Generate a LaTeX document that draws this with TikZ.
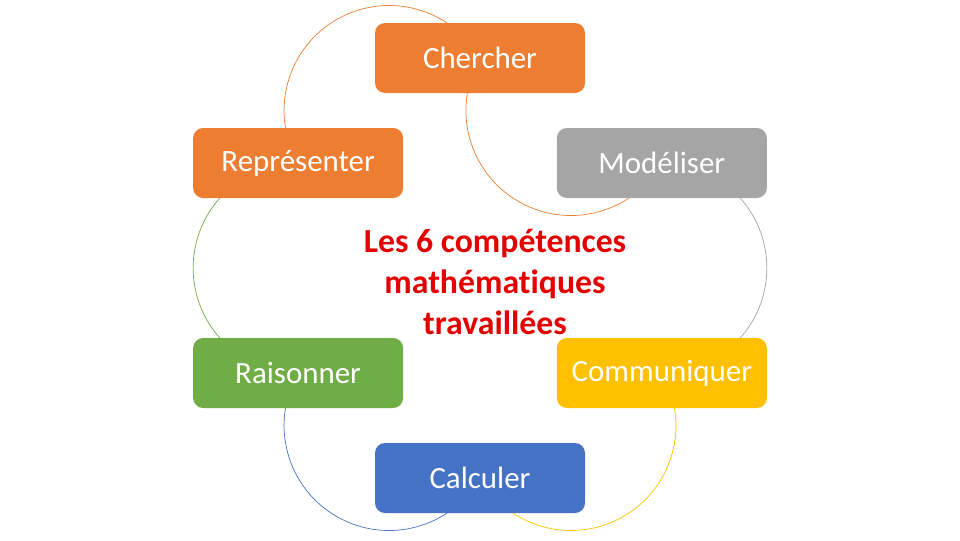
\documentclass[tikz,border=0pt]{standalone}
\usepackage{fontspec}
\setmainfont{Carlito}[Ligatures={NoCommon}]
\usepackage{tikz}
\usetikzlibrary{backgrounds}
\definecolor{orangebox}{HTML}{ED7D31}
\definecolor{graybox}{HTML}{A5A5A5}
\definecolor{yellowbox}{HTML}{FFC000}
\definecolor{bluebox}{HTML}{4472C4}
\definecolor{greenbox}{HTML}{70AD47}
\definecolor{redtitle}{HTML}{E30000}

\begin{document}
\begin{tikzpicture}[
        box/.style={rounded corners=0.25cm, minimum width=5.25cm, minimum height=1.75cm,
            text=white, font=\fontsize{22}{26}\selectfont},
        cycleline/.style={line width=0.5pt}]
                \useasboundingbox (-12,-6.8) rectangle (12,6.7);
                \node[box, fill=orangebox] at (90:5.25) (chercher) {Chercher};
                \node[box, fill=graybox] at (30:5.25) (modeliser) {Modéliser};
                \node[box, fill=yellowbox] at (-30:5.25) (communiquer) {Communiquer};
                \node[box, fill=bluebox] at (-90:5.25) (calculer) {Calculer};
                \node[box, fill=greenbox] at (-150:5.25) (raisonner) {Raisonner};
                \node[box, fill=orangebox] at (150:5.25) (representer) {Représenter};
                \node[align=center, text=redtitle, font=\bfseries\fontsize{24}{29}\selectfont]
                    at (0.375,-0.35) (titre) {Les 6 compétences\\mathématiques\\travaillées};
                \begin{scope}[on background layer]
                    \draw[cycleline, orangebox] (representer.center) arc[start angle=210, end angle=30, radius=2.625];
                    \draw[cycleline, orangebox] (chercher.center) arc[start angle=150, end angle=330, radius=2.625];
                    \draw[cycleline, graybox] (modeliser.center) arc[start angle=90, end angle=-90, radius=2.625];
                    \draw[cycleline, yellowbox] (communiquer.center) arc[start angle=30, end angle=-150, radius=2.625];
                    \draw[cycleline, bluebox] (calculer.center) arc[start angle=-30, end angle=-210, radius=2.625];
                    \draw[cycleline, greenbox] (raisonner.center) arc[start angle=270, end angle=90, radius=2.625];
                \end{scope}
            \end{tikzpicture}
\end{document}
